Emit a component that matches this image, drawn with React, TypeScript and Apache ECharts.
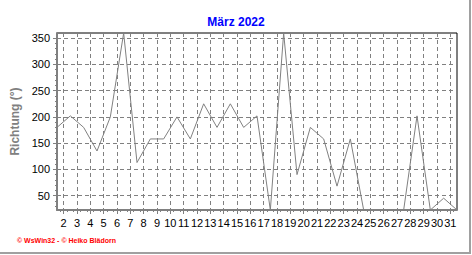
import React, { useEffect, useRef } from "react";
import * as echarts from "echarts";

const TITLE = "März 2022";
const Y_NAME = "Richtung (°)";
const FOOTER = "© WsWin32 - © Heiko Blädorn";

// day of month (value plotted at noon of that day)
const days = [1, 2, 3, 4, 5, 6, 7, 8, 9, 10, 11, 12, 13, 14, 15, 16, 17, 18, 19, 20, 21, 22, 23, 24, 25, 26, 27, 28, 29, 30, 31];
// wind direction in degrees
const direction = [180, 202, 180, 135, 200, 360, 113, 158, 158, 200, 158, 225, 180, 225, 180, 202, 22.5, 360, 90, 180, 158, 68, 158, 22.5, 22.5, 22.5, 22.5, 202, 22.5, 45, 22.5];

const xTickLabels = [2, 3, 4, 5, 6, 7, 8, 9, 10, 11, 12, 13, 14, 15, 16, 17, 18, 19, 20, 21, 22, 23, 24, 25, 26, 27, 28, 29, 30, 31];
const yTickLabels = [50, 100, 150, 200, 250, 300, 350];
const yMinorTicks = [30, 40, 60, 70, 80, 90, 110, 120, 130, 140, 160, 170, 180, 190, 210, 220, 230, 240, 260, 270, 280, 290, 310, 320, 330, 340];

export default function App() {
  const ref = useRef<HTMLDivElement>(null);
  useEffect(() => {
    if (!ref.current) return;
    const chart = echarts.init(ref.current, null, { renderer: "svg" });
    const font = "Liberation Sans, Arial, sans-serif";
    chart.setOption({
      animation: false,
      backgroundColor: "#ffffff",
      title: {
        text: TITLE,
        left: "center",
        top: 11,
        textStyle: { color: "#0000ff", fontSize: 12, fontWeight: "bold", fontFamily: font },
      },
      grid: {
        left: 57,
        top: 33,
        width: 400,
        height: 177,
        show: true,
        borderColor: "#000000",
        borderWidth: 1,
      },
      xAxis: [
        {
          type: "value",
          min: 1.5,
          max: 31.5,
          interval: 0.5,
          axisLine: { show: true, onZero: false, lineStyle: { color: "#808080", width: 2 } },
          axisTick: { show: true, customValues: xTickLabels, length: 4, lineStyle: { color: "#808080" } },
          minorTick: { show: true, splitNumber: 2, length: 2, lineStyle: { color: "#808080" } },
          axisLabel: { customValues: xTickLabels, color: "#000000", fontSize: 11, fontFamily: font, margin: 7 },
          splitLine: { show: true, lineStyle: { color: "#808080", type: [4, 3], width: 1 } },
        },
      ],
      yAxis: [
        {
          type: "value",
          min: 22.5,
          max: 360,
          position: "left",
          name: Y_NAME,
          nameLocation: "middle",
          nameGap: 32,
          nameRotate: 90,
          nameTextStyle: { color: "#808080", fontSize: 12, fontWeight: "bold", fontFamily: font },
          axisLine: { show: true, onZero: false, lineStyle: { color: "#808080", width: 2 } },
          axisTick: { show: true, customValues: yTickLabels, length: 4, lineStyle: { color: "#808080" } },
          axisLabel: { customValues: yTickLabels, color: "#000000", fontSize: 11, fontFamily: font, margin: 7 },
          splitLine: { show: true, lineStyle: { color: "#808080", type: [4, 3], width: 1 } },
        },
        {
          type: "value",
          min: 22.5,
          max: 360,
          position: "right",
          offset: -400,
          axisLine: { show: false },
          axisTick: { show: true, inside: true, customValues: yMinorTicks, length: 2, lineStyle: { color: "#808080" } },
          axisLabel: { show: false },
          splitLine: { show: false },
        },
      ],
      series: [
        {
          type: "line",
          xAxisIndex: 0,
          yAxisIndex: 0,
          data: days.map((d, i) => [d + 0.5, direction[i]]),
          symbol: "none",
          clip: true,
          lineStyle: { color: "#808080", width: 1 },
        },
      ],
      graphic: [
        {
          type: "text",
          left: 17,
          top: 237,
          style: { text: FOOTER, fill: "#ff0000", fontSize: 7, fontWeight: "bold", fontFamily: font },
        },
        {
          type: "line",
          shape: { x1: 470, y1: 0, x2: 470, y2: 254 },
          style: { stroke: "#a0a0a0", lineWidth: 2 },
        },
        {
          type: "line",
          shape: { x1: 0, y1: 253, x2: 471, y2: 253 },
          style: { stroke: "#a0a0a0", lineWidth: 2 },
        },
      ],
    });
    return () => chart.dispose();
  }, []);
  return (
    <div
      ref={ref}
      style={{ position: "fixed", left: 0, top: 0, width: 472, height: 255 }}
    />
  );
}
